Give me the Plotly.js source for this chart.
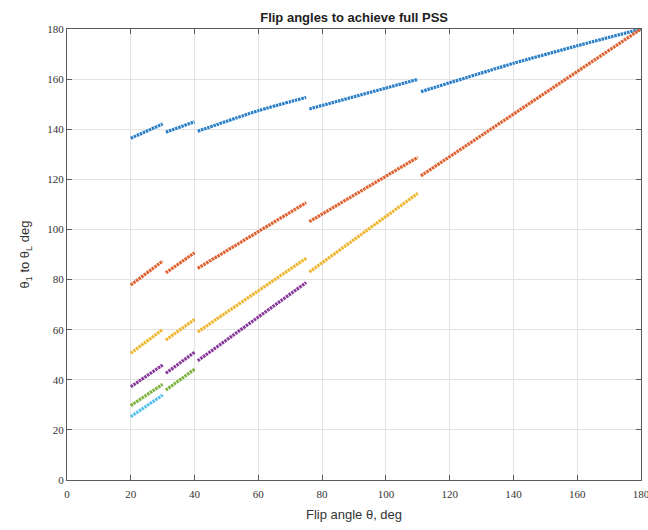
<!DOCTYPE html>
<html>
<head>
<meta charset="utf-8">
<script src="https://cdn.plot.ly/plotly-3.0.1.min.js"></script>
<style>html,body{margin:0;padding:0;background:#fff;}#chart{width:648px;height:530px;}</style>
</head>
<body>
<div id="chart"></div>
<script>
// Segment breakpoints (null separates segments)
const blueX   = [20, 30, null, 31, 40, null, 41, 60, 75, null, 76, 110, null, 111, 140, 160, 180];
const blueY   = [136.4, 142.1, null, 138.8, 143.0, null, 139.2, 147.4, 152.7, null, 148.1, 159.9, null, 155.0, 166.3, 173.3, 180];
const redX    = [20, 30, null, 31, 40, null, 41, 75, null, 76, 110, null, 111, 180];
const redY    = [77.8, 87.4, null, 82.7, 90.7, null, 84.5, 110.7, null, 103.1, 128.8, null, 121.4, 180];
const yellowX = [20, 30, null, 31, 40, null, 41, 75, null, 76, 110];
const yellowY = [50.6, 60.1, null, 55.9, 64.1, null, 59.1, 88.5, null, 83.0, 114.4];
const purpleX = [20, 30, null, 31, 40, null, 41, 75];
const purpleY = [37.2, 45.9, null, 42.6, 51.0, null, 47.6, 78.8];
const greenX  = [20, 30, null, 31, 40];
const greenY  = [29.7, 38.2, null, 35.9, 44.2];
const cyanX   = [20, 30];
const cyanY   = [25.3, 33.9];

const tickVals = [0, 20, 40, 60, 80, 100, 120, 140, 160, 180];
const tickText = ['0', '20', '40', '60', '80', '100', '120', '140', '160', '180'];

const series = [
  {x: blueX, y: blueY, color: '#2a7fc8'},
  {x: redX, y: redY, color: '#e0602e'},
  {x: yellowX, y: yellowY, color: '#eeb62e'},
  {x: purpleX, y: purpleY, color: '#87399a'},
  {x: greenX, y: greenY, color: '#7db23c'},
  {x: cyanX, y: cyanY, color: '#56c1ec'}
];

const traces = series.map(s => ({
  type: 'scatter', mode: 'lines', x: s.x, y: s.y,
  connectgaps: false, hoverinfo: 'skip',
  line: {color: s.color, width: 3.2, dash: '2.5px,0.8px', shape: 'spline', smoothing: 0.6}
}));

const axisCommon = {
  range: [0, 180], tickvals: tickVals, ticktext: tickText,
  showgrid: true, gridcolor: '#e2e2e2', gridwidth: 1,
  showline: true, linecolor: '#5a5a5a', linewidth: 1, mirror: 'ticks',
  ticks: 'inside', ticklen: 5, tickcolor: '#5a5a5a', tickwidth: 1,
  zeroline: false, fixedrange: true, ticklabeloverflow: 'allow',
  tickfont: {family: 'Liberation Serif, serif', size: 11, color: '#333'}
};

const layout = {
  width: 648, height: 530,
  margin: {l: 67, r: 7, t: 29, b: 50, pad: 0},
  paper_bgcolor: '#fff', plot_bgcolor: '#fff',
  showlegend: false,
  title: {text: '<b>Flip angles to achieve full PSS</b>', x: 0.5465, xanchor: 'center', y: 0.968, yanchor: 'middle',
          font: {family: 'Liberation Sans, Arial, sans-serif', size: 13, color: '#222'}},
  xaxis: Object.assign({}, axisCommon, {
    ticklabelstandoff: 4,
    title: {text: 'Flip angle θ, deg', standoff: 10, font: {family: 'Liberation Sans, Arial, sans-serif', size: 13, color: '#333'}}
  }),
  yaxis: Object.assign({}, axisCommon, {
    title: {text: 'θ<sub>1</sub> to θ<sub>L</sub> deg', standoff: 14, font: {family: 'Liberation Sans, Arial, sans-serif', size: 13, color: '#333'}}
  })
};

Plotly.newPlot('chart', traces, layout, {staticPlot: true, displayModeBar: false});
</script>
</body>
</html>
